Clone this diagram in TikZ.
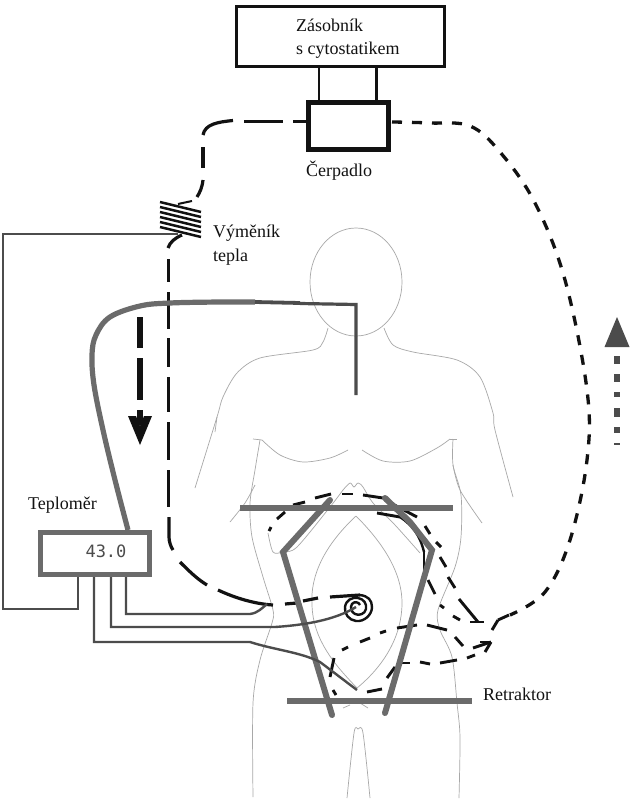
\documentclass[tikz,border=0pt]{standalone}
\usepackage{fontspec}
\setmainfont{Liberation Serif}
\setmonofont{DejaVu Sans Mono}
\usetikzlibrary{arrows.meta}
\definecolor{bodyc}{gray}{0.66}
\definecolor{wire}{gray}{0.3}
\definecolor{frame}{gray}{0.42}
\definecolor{ink}{gray}{0.07}
\tikzset{
  x=1pt,y=-1pt,
  bodyline/.style={draw=bodyc,line width=0.7pt,smooth},
  wireline/.style={draw=wire,line width=2.4pt,line join=miter},
  frameline/.style={draw=frame,line width=6pt,line cap=round,line join=miter},
  bar/.style={draw=frame,line width=6pt},
  dashpiece/.style={draw=ink,line width=3.2pt},
  boxnode/.style={draw=ink,fill=white,inner sep=0pt,anchor=north west},
  label/.style={font=\fontsize{18}{23.5}\selectfont,text=ink,align=left,inner sep=0pt},
}
\begin{document}
\begin{tikzpicture}
\useasboundingbox (0,0) rectangle (633,800);
\fill[white] (0,0) rectangle (633,800);

% body outline
\draw[bodyline] (356,282) ellipse [x radius=46,y radius=54];
\draw[bodyline] plot coordinates {(328,328) (323,342) (313,350) (260,358) (237,373) (223,397) (217,417) (195,488)};
\draw[bodyline] (217,417) -- (215,432);
\draw[bodyline] plot coordinates {(384,328) (393,345) (413,352) (457,360) (480,377) (493,413) (495,430) (513,497)};
\draw[bodyline] (253,439) -- (262,440);
\draw[bodyline] plot coordinates {(262,440) (280,455) (303,462) (330,458) (348,450)};
\draw[bodyline] plot coordinates {(362,450) (383,461) (410,461) (437,448) (450,439)};
\draw[bodyline] (450,439) -- (457,439);
\draw[bodyline] plot coordinates {(260,440) (255,470) (250,503) (252,537) (263,577) (273,610) (272,623) (260,660) (253,703) (253,797)};
\draw[bodyline] plot coordinates {(453,439) (453,465) (461,495) (461,537) (455,567) (438,610) (440,630) (452,657) (457,703) (460,737) (459,798)};
\draw[bodyline] plot coordinates {(255,485) (245,503) (230,522)};
\draw[bodyline] plot coordinates {(453,465) (460,490) (482,523)};
\draw[bodyline] plot coordinates {(343,490) (350,483) (354,487) (358,483) (363,487) (373,503) (395,525) (420,553)};
\draw[bodyline] plot coordinates {(343,490) (330,507) (297,547) (283,552) (273,552) (268,533)};
\draw[bodyline,smooth=false] (356,516) .. controls (325,545) and (310,575) .. (312,605) .. controls (313,640) and (335,665) .. (357,688) .. controls (385,665) and (402,635) .. (402,603) .. controls (402,570) and (380,540) .. (356,516);
\draw[bodyline] plot coordinates {(343,708) (350,705)};
\draw[bodyline] plot coordinates {(360,703) (368,708)};
\draw[bodyline] plot coordinates {(347,798) (354,733) (358,729) (363,733) (370,798)};

% storage and pump
\node[boxnode,line width=2.6pt,minimum width=208pt,minimum height=60pt] (zas) at (235,5.5) {};
\node[label,anchor=west] (zastext) at (296,38.5) {Zásobník\\s cytostatikem};
\node[boxnode,line width=5pt,minimum width=80pt,minimum height=47pt] (pump) at (306,100) {};
\node[label,anchor=west] (pumptext) at (306,171) {Čerpadlo};
\draw[draw=ink,line width=2.6pt] (319,68) -- (319,100);
\draw[draw=ink,line width=3pt] (376,68) -- (376,100);

% heat exchanger
\node[label,anchor=west] (hx) at (213,245) {Výměník\\tepla};
\foreach \i in {0,...,5}
  \draw[draw=ink,line width=2.5pt] (160,202+\i*5) -- (201,212+\i*5);
\draw[draw=ink,line width=2pt] (178,204) -- (192,201);

% inflow dashes
\foreach \ya/\yb in {259/282,292/329,338/367,377/412,422/460,470/507}
  \draw[dashpiece] (168.5,\ya) -- (168.5,\yb);
\foreach \xa/\xb in {244/283,293/306}
  \draw[draw=ink,line width=3.6pt] (\xa,121.5) -- (\xb,121.5);
\draw[dashpiece] (233,120.5) .. controls (218,122) and (205,124) .. (203,135);
\draw[dashpiece] (203,147) -- (203,168);
\draw[dashpiece] (203,180) .. controls (202,188) and (200,192) .. (197,197);
\draw[dashpiece] (182,235) .. controls (175,238) and (170,242) .. (168,248);
\draw[dashpiece] (169,517) -- (169,537) .. controls (169,542) and (171,547) .. (173,550);
\draw[dashpiece] (180,562) .. controls (188,570) and (197,579) .. (207,585);
\draw[dashpiece] (218,590) .. controls (235,598) and (255,604) .. (273,605);
\draw[dashpiece] (285,604) -- (297,603);
\draw[dashpiece] (303,601) -- (318,598);
\draw[dashpiece] (330,597) -- (360,595);

% spiral
\draw[draw=ink,line width=2.4pt] (360,595) .. controls (368,596) and (372,600) .. (372,607) .. controls (372,615) and (364,622) .. (356,621) .. controls (349,620) and (344,614) .. (345,607) .. controls (346,600) and (352,597) .. (358,598) .. controls (364,599) and (367,604) .. (366,609) .. controls (365,614) and (359,616) .. (355,614) .. controls (351,612) and (350,607) .. (352,604) .. controls (354,601) and (359,602) .. (360,605);

% outflow dashed
\draw[draw=ink,line width=3.3pt,dash pattern=on 10pt off 10pt] plot[smooth,tension=0.6] coordinates {(392,122) (430,123) (470,126) (500,152) (535,203) (565,280) (587,390) (587,460) (570,540) (545,592) (510,615)};

% abdominal dashes
\foreach \ax/\ay/\bx/\by in {
  269/531/271/527, 277/519/285/512, 293/505/305/502, 315/498/331/494, 342/494/353/494,
  363/495/383/498, 385/500/417/517, 425/526/430/534, 436/542/441/547, 440/557/446/567,
  448/577/455/588, 459/599/478/622, 470/622/484/622, 440/605/444/608,
  342/650/348/647, 360/642/370/638, 380/633/386/631, 397/628/417/625, 427/625/447/630,
  453/616/460/620, 455/637/463/646, 387/678/395/667, 402/663/410/663, 420/662/430/664,
  440/663/457/660, 467/658/475/655, 473/648/491/642, 491/642/485/652, 480/642/491/642,
  330/677/334/658, 333/690/336/695, 367/692/382/689, 377/513/400/517, 424/552/424/573, 428/580/435/594,
  509/615/498/620, 498/620/492/630}
  \draw[draw=ink,line width=2.9pt] (\ax,\ay) -- (\bx,\by);
\draw[draw=ink,line width=2.4pt] (400,517) .. controls (412,525) and (420,535) .. (424,552);

% retractor
\draw[bar] (240,508) -- (453,508);
\draw[bar] (287,701) -- (472,701);
\draw[frameline] (330,500) -- (283,552) -- (332,715);
\draw[frameline] (385,498) -- (410,522) -- (432,550) -- (385,713);
\node[label,anchor=west] (ret) at (483,694) {Retraktor};

% thermometer
\node[boxnode,draw=frame,line width=5pt,minimum width=109pt,minimum height=42pt] (thermo) at (38,530) {};
\node[font=\ttfamily\fontsize{17}{20}\selectfont,text=wire,inner sep=0pt] (val) at (106,551) {43.0};
\node[label,anchor=west] (tlabel) at (28,505) {Teploměr};

\draw[draw=frame,line width=5.2pt] plot[smooth,tension=0.6] coordinates {(128,530) (115,480) (103,430) (94,385) (92,355) (96,335) (110,317) (140,306) (170,303) (220,302) (255,302)};
\draw[draw=wire,line width=3.8pt] (255,302) -- (300,303);
\draw[draw=wire,line width=3.2pt] (300,303.5) -- (356,304.5) -- (356,395);

\draw[wireline] (78,577) -- (78,609) -- (3,609) -- (3,234) -- (178,234);
\draw[wireline] (126,577) -- (126,614) -- (250,614) .. controls (258,613) and (262,608) .. (267,604);
\draw[wireline] (111,577) -- (111,627) -- (275,627) .. controls (305,625) and (335,620) .. (356,607);
\draw[wireline] (94,577) -- (94,642) -- (250,642) .. controls (275,650) and (300,652) .. (320,662) -- (357,690);

% direction arrows
\draw[draw=ink,line width=5.5pt] (140,317) -- (140,348);
\draw[draw=ink,line width=5.5pt] (140,358) -- (140,400);
\draw[draw=ink,line width=5.5pt] (140,410) -- (140,425);
\fill[ink] (128,416) -- (136,416) -- (140,426) -- (144,416) -- (152,416) -- (140,445) -- cycle;
\foreach \ya/\yb in {356/364,374/382,392/397,408/417,427/433}
  \draw[draw=wire,line width=6pt] (617,\ya) -- (617,\yb);
\draw[draw=wire,line width=1.5pt] (614,444) -- (620,444);
\fill[wire] (617,317) -- (629.5,347) -- (604.5,347) -- cycle;
\end{tikzpicture}
\end{document}
